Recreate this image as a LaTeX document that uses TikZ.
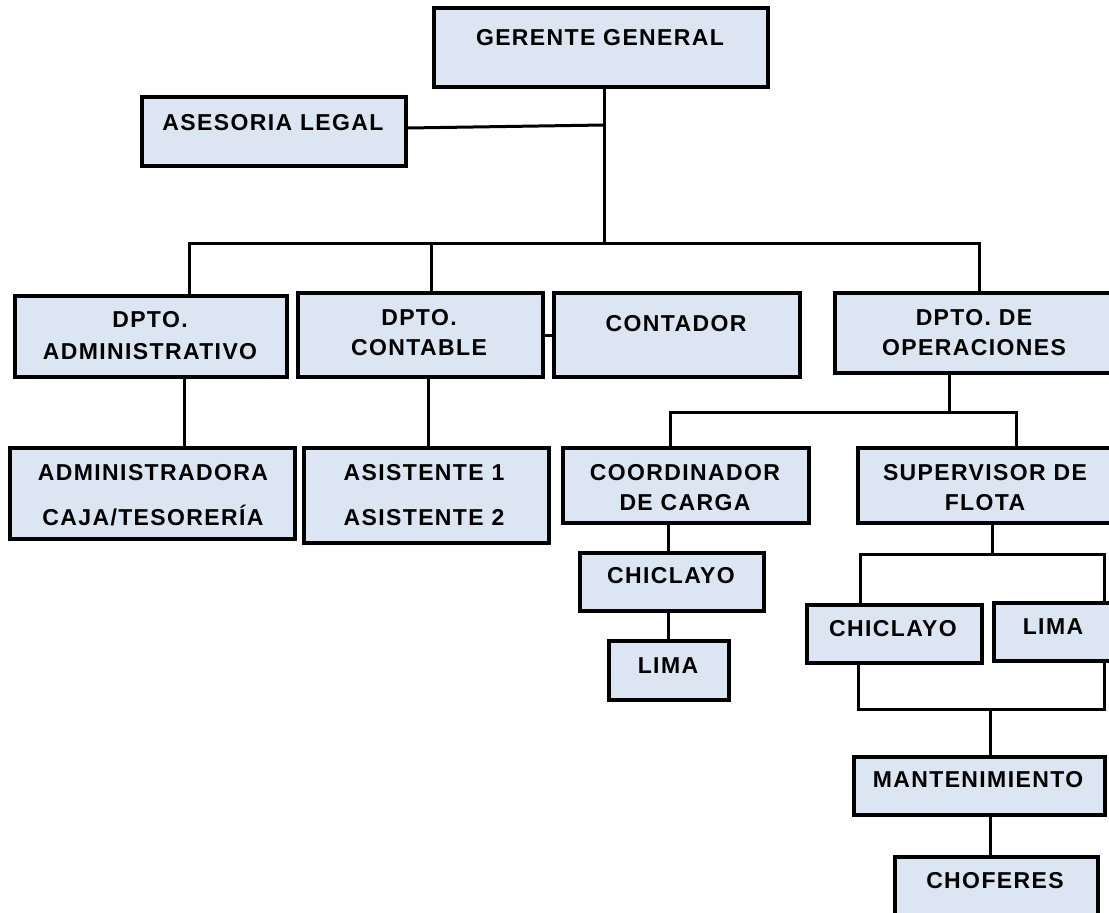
\documentclass[tikz,border=0pt]{standalone}
\usepackage{fontspec}
\setmainfont{Liberation Sans}[LetterSpace=6]
\usetikzlibrary{fit}
\definecolor{boxfill}{RGB}{220,230,242}
\begin{document}
\begin{tikzpicture}[x=1pt,y=-1pt,
  box/.style={draw=black, fill=boxfill, line width=3.2pt, inner sep=0pt},
  txt/.style={inner sep=0pt, text height=16.5pt, text depth=0pt, font=\fontsize{23}{27}\selectfont\bfseries},
  link/.style={line width=3pt}]
\useasboundingbox (0,0) rectangle (1109,913);
\clip (0,0) rectangle (1109,913);
\fill[white] (0,0) rectangle (1109,913);
% boxes
\node[box, fit={(434,8) (768,87)}] (gg) {};
\node[box, fit={(142,97) (406,166)}] (al) {};
\node[box, fit={(15,296) (287,377)}] (dadm) {};
\node[box, fit={(298,293) (543,377)}] (dcont) {};
\node[box, fit={(554,293) (800,377)}] (cont) {};
\node[box, fit={(835,293) (1125,373)}] (dop) {};
\node[box, fit={(10,448) (295,539)}] (adm) {};
\node[box, fit={(304,448) (549,543)}] (asis) {};
\node[box, fit={(563,448) (809,523)}] (coord) {};
\node[box, fit={(858,448) (1125,523)}] (sup) {};
\node[box, fit={(580,553) (764,611)}] (chl) {};
\node[box, fit={(609,641) (729,700)}] (liml) {};
\node[box, fit={(807,605) (982,663)}] (chr) {};
\node[box, fit={(994,603) (1125,661)}] (limr) {};
\node[box, fit={(854,757) (1105,815)}] (mant) {};
\node[box, fit={(895,857) (1098,935)}] (chof) {};
% junction coordinates
\coordinate (ya) at (0,128);
\coordinate (j0) at (604,125);
\coordinate (j1) at (604,243);
\coordinate (b1) at (189,243);
\coordinate (b2) at (979,243);
\coordinate (b3) at (431,243);
\coordinate (xa) at (184,0);
\coordinate (xc) at (428,0);
\coordinate (o0) at (949,412);
\coordinate (o1) at (670,412);
\coordinate (o2) at (1016,412);
\coordinate (xk) at (668,0);
\coordinate (s0) at (992,554);
\coordinate (s1) at (860,554);
\coordinate (s2) at (1104,554);
\coordinate (m1) at (858,709);
\coordinate (m2) at (1104,709);
\coordinate (m0) at (990,709);
% connectors
\draw[link] (gg.south -| j1) -- (j1);
\draw[link] (al.east |- ya) -- (j0);
\draw[link] (dadm.north -| b1) -- (b1) -- (b2) -- (dop.north -| b2);
\draw[link] (b3) -- (dcont.north -| b3);
\draw[link] (dadm.south -| xa) -- (adm.north -| xa);
\draw[link] (dcont.south -| xc) -- (asis.north -| xc);
\draw[link] (dcont.east) -- (cont.west);
\draw[link] (dop.south -| o0) -- (o0);
\draw[link] (coord.north -| o1) -- (o1) -- (o2) -- (sup.north -| o2);
\draw[link] (coord.south -| xk) -- (chl.north -| xk);
\draw[link] (chl.south -| xk) -- (liml.north -| xk);
\draw[link] (sup.south -| s0) -- (s0);
\draw[link] (chr.north -| s1) -- (s1) -- (s2) -- (limr.north -| s2);
\draw[link] (chr.south -| m1) -- (m1) -- (m2) -- (limr.south -| m2);
\draw[link] (m0) -- (mant.north -| m0);
\draw[link] (mant.south -| m0) -- (chof.north -| m0);
% texts
\node[txt] (t-gg) at (600,37) {GERENTE GENERAL};
\node[txt] (t-al) at (273,122) {ASESORIA LEGAL};
\node[txt] (t-dadm1) at (150,319) {DPTO.};
\node[txt] (t-dadm2) at (150,351) {ADMINISTRATIVO};
\node[txt] (t-dcont1) at (419,317) {DPTO.};
\node[txt] (t-dcont2) at (419,347) {CONTABLE};
\node[txt] (t-cont) at (676,323) {CONTADOR};
\node[txt] (t-dop1) at (974,317) {DPTO. DE};
\node[txt] (t-dop2) at (974,347) {OPERACIONES};
\node[txt] (t-adm1) at (153,472) {ADMINISTRADORA};
\node[txt] (t-adm2) at (153,517) {CAJA/TESORERÍA};
\node[txt] (t-asis1) at (424,472) {ASISTENTE 1};
\node[txt] (t-asis2) at (424,517) {ASISTENTE 2};
\node[txt] (t-coord1) at (685,472) {COORDINADOR};
\node[txt] (t-coord2) at (685,502) {DE CARGA};
\node[txt] (t-sup1) at (985,472) {SUPERVISOR DE};
\node[txt] (t-sup2) at (985,502) {FLOTA};
\node[txt] (t-chl) at (671,575) {CHICLAYO};
\node[txt] (t-liml) at (668,665) {LIMA};
\node[txt] (t-chr) at (893,628) {CHICLAYO};
\node[txt] (t-limr) at (1053,626) {LIMA};
\node[txt] (t-mant) at (978,779) {MANTENIMIENTO};
\node[txt] (t-chof) at (995,880) {CHOFERES};
\end{tikzpicture}
\end{document}
